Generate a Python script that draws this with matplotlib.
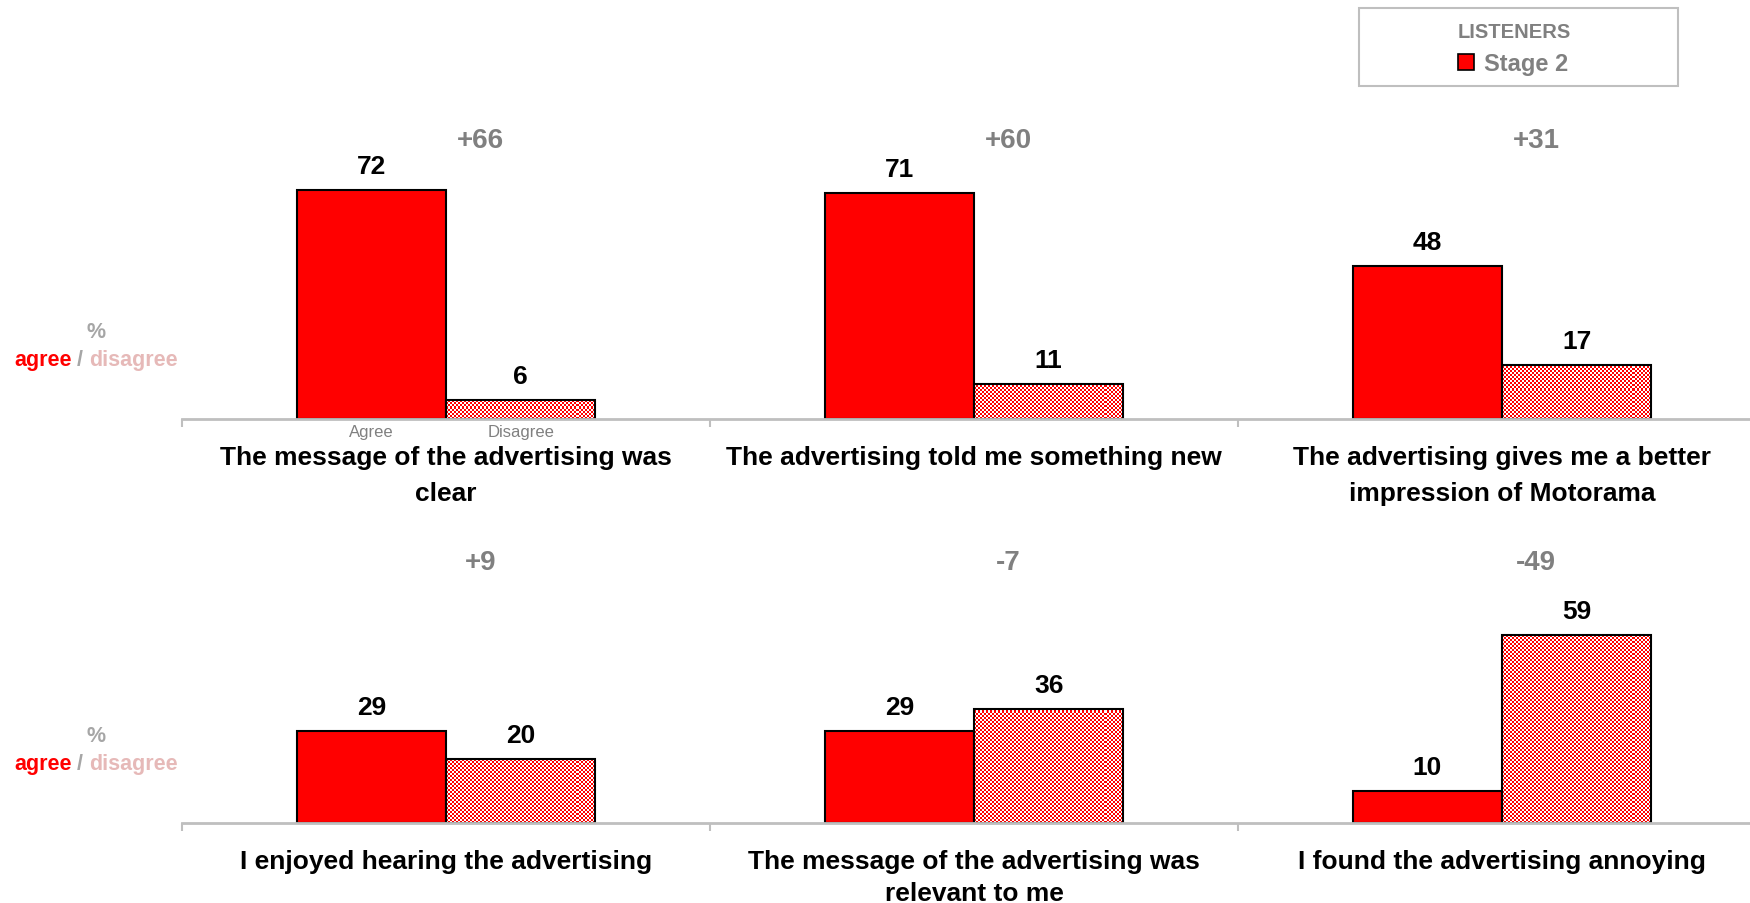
import numpy as np
import matplotlib
matplotlib.use("Agg")
import matplotlib.pyplot as plt
from matplotlib.colors import ListedColormap
from matplotlib.patches import Rectangle
from matplotlib.transforms import offset_copy, blended_transform_factory

plt.rcParams['font.family'] = 'Liberation Sans'

# Stage 2 listeners: % agree / % disagree for each statement
statements_top = ["The message of the advertising was\nclear",
                  "The advertising told me something new",
                  "The advertising gives me a better\nimpression of Motorama"]
agree_top = [72, 71, 48]
disagree_top = [6, 11, 17]

statements_bottom = ["I enjoyed hearing the advertising",
                     "The message of the advertising was\nrelevant to me",
                     "I found the advertising annoying"]
agree_bottom = [29, 29, 10]
disagree_bottom = [20, 36, 59]

bar_names = ["Agree", "Disagree"]
legend_title = "LISTENERS"
series_name = "Stage 2"

RED = '#ff0000'
GREY = '#808080'
LIGHT_GREY = '#a6a6a6'
AXIS_GREY = '#bfbfbf'
PINK = '#e6b9b8'

W, H = 1750, 904
fig = plt.figure(figsize=(W / 100, H / 100), dpi=100)

# pixel layout of the two rows
AX_LEFT, AX_WIDTH, AX_HEIGHT = 182, 1584, 318
BAR_W = 0.283


def px_y(y):
    # pixel row (from top) -> figure fraction
    return (H - y) / H


def draw_row(baseline, statements, agree, disagree, net_y, show_bar_names, label_spacing):
    ax = fig.add_axes([AX_LEFT / W, px_y(baseline), AX_WIDTH / W, AX_HEIGHT / H])
    ax.patch.set_visible(False)
    x = np.arange(len(statements))

    a_bars = ax.bar(x - BAR_W / 2, agree, BAR_W, color=RED, edgecolor='black', linewidth=1.5, zorder=2)
    d_bars = ax.bar(x + BAR_W / 2, disagree, BAR_W, facecolor='none', edgecolor='black',
                    linewidth=1.5, zorder=2)

    # red/white checkerboard inside the disagree bars (2 px cells)
    board = np.indices((AX_HEIGHT // 2, AX_WIDTH // 2)).sum(axis=0) % 2
    for bar in d_bars:
        im = ax.imshow(board, cmap=ListedColormap(['white', RED]), extent=(-0.5, 2.5, 0, 100),
                       aspect='auto', interpolation='nearest', origin='lower', zorder=1)
        im.set_clip_path(bar)

    ax.set_xlim(-0.5, 2.5)
    ax.set_ylim(0, 100)

    for s in ['top', 'right', 'left']:
        ax.spines[s].set_visible(False)
    ax.spines['bottom'].set_color(AXIS_GREY)
    ax.spines['bottom'].set_linewidth(2)
    ax.spines['bottom'].set_zorder(3)
    ax.set_yticks([])
    ax.set_xticks(np.arange(-0.5, 3, 1))
    ax.tick_params(axis='x', length=6, width=1.5, color=AXIS_GREY, direction='out', labelbottom=False)

    above = offset_copy(ax.transData, fig=fig, y=17, units='dots')
    for bars, vals in [(a_bars, agree), (d_bars, disagree)]:
        for bar, v in zip(bars, vals):
            ax.text(bar.get_x() + bar.get_width() / 2, v, str(v), transform=above,
                    ha='center', va='baseline', fontsize=19, fontweight='bold', color='black')

    below = offset_copy(ax.transData, fig=fig, y=-26, units='dots')
    for xi, s in zip(x, statements):
        ax.text(xi, 0, s, transform=below, ha='center', va='top', fontsize=19,
                fontweight='bold', color='black', linespacing=label_spacing)

    if show_bar_names:
        under = offset_copy(ax.transData, fig=fig, y=-17, units='dots')
        for bar, name in zip([a_bars[0], d_bars[0]], bar_names):
            ax.text(bar.get_x() + bar.get_width() / 2, 0, name, transform=under,
                    ha='center', va='baseline', fontsize=12, color=GREY)

    # net score (agree minus disagree) above each pair
    net_tr = blended_transform_factory(ax.transData, fig.transFigure)
    for xi, a, d in zip(x, agree, disagree):
        fig.text(xi + 0.065, px_y(net_y), f"{a - d:+d}", transform=net_tr, ha='center',
                 va='baseline', fontsize=20, fontweight='bold', color=GREY)

    # "% agree / disagree" caption at the left
    fig.text(96 / W, px_y(baseline - 87), "%", ha='center', va='center', fontsize=15.5,
             fontweight='bold', color=LIGHT_GREY)
    cap_y = px_y(baseline - 54)
    fig.text(72 / W, cap_y, "agree", ha='right', va='baseline', fontsize=15.5, fontweight='bold', color=RED)
    fig.text(80 / W, cap_y, "/", ha='center', va='baseline', fontsize=15.5, fontweight='bold', color=LIGHT_GREY)
    fig.text(89 / W, cap_y, "disagree", ha='left', va='baseline', fontsize=15.5, fontweight='bold', color=PINK)
    return ax


draw_row(420, statements_top, agree_top, disagree_top, 148, True, 1.65)
draw_row(824, statements_bottom, agree_bottom, disagree_bottom, 570, False, 1.4)

# legend box, top right
leg = fig.add_axes([0, 0, 1, 1])
leg.set_xlim(0, W)
leg.set_ylim(H, 0)
leg.axis('off')
leg.add_patch(Rectangle((1359, 9), 319, 78, facecolor='white', edgecolor=AXIS_GREY, linewidth=1.5))
leg.text(1514, 33, legend_title, ha='center', va='center', fontsize=14.5, fontweight='bold', color=GREY)
leg.add_patch(Rectangle((1458, 55), 16, 16, facecolor=RED, edgecolor='black', linewidth=1.2))
leg.text(1484, 71, series_name, ha='left', va='baseline', fontsize=17, fontweight='bold', color=GREY)

fig.savefig("out.png", dpi=100, facecolor='white')
